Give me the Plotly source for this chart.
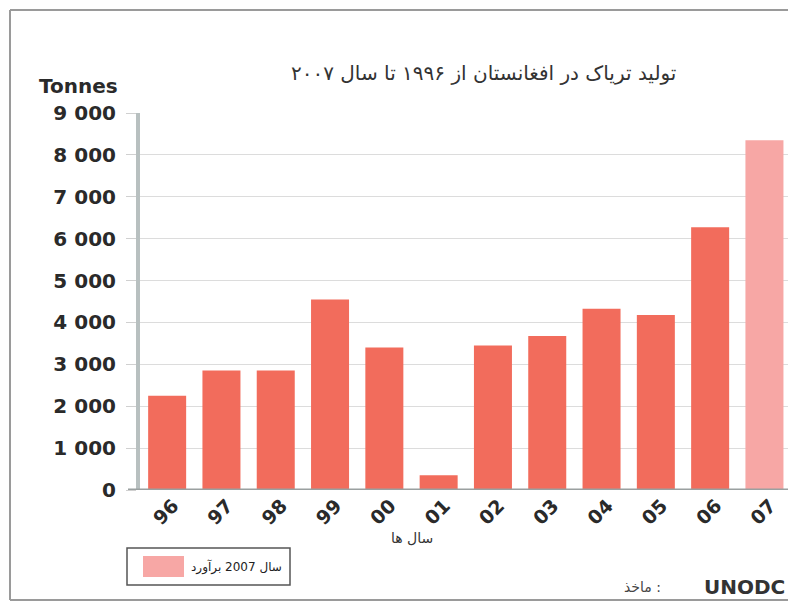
import plotly.graph_objects as go

years = ["96", "97", "98", "99", "00", "01", "02", "03", "04", "05", "06"]
tonnes = [2250, 2850, 2850, 4550, 3400, 350, 3450, 3675, 4325, 4175, 6275]
est_year = ["07"]
est_tonnes = [8350]
all_years = years + est_year
ytick_vals = [0, 1000, 2000, 3000, 4000, 5000, 6000, 7000, 8000, 9000]
ytick_text = ["0", "1 000", "2 000", "3 000", "4 000", "5 000", "6 000", "7 000", "8 000", "9 000"]

title_text = "تولید تریاک در افغانستان از ۱۹۹۶ تا سال ۲۰۰۷"
xaxis_title = "سال ها"
legend_text = "سال 2007 برآورد"
source_label = "ماخذ :"
source_name = "UNODC"

W, H = 788, 602
ML, MR, MT, MB = 140, 0, 113, 602 - 490
PW, PH = W - ML - MR, H - MT - MB

def px(x):
    return (x - ML) / PW

def py(y):
    return (H - MB - y) / PH

BAR = "#F26C5C"
PINK = "#F7A7A5"

fig = go.Figure()
fig.add_trace(go.Bar(x=years, y=tonnes, marker=dict(color=BAR, line=dict(width=0)),
                     showlegend=False))
fig.add_trace(go.Bar(x=est_year, y=est_tonnes, marker=dict(color=PINK, line=dict(width=0)),
                     name=legend_text, showlegend=False))

fig.update_layout(
    width=W, height=H, autosize=False,
    margin=dict(l=ML, r=MR, t=MT, b=MB, pad=0),
    paper_bgcolor="white", plot_bgcolor="white",
    barmode="overlay", bargap=0.3,
    showlegend=False,
    font=dict(family="DejaVu Sans", color="#2a2a2a"),
)
fig.update_xaxes(
    type="category", categoryorder="array", categoryarray=all_years,
    range=[-0.5, -0.5 + PW / 54.3],
    tickangle=-45, ticklabelshift=6, ticklabelstandoff=0,
    tickfont=dict(family="DejaVu Sans", size=19, weight="bold", color="#2a2a2a"),
    ticks="", showgrid=False, showline=False, zeroline=False,
)
fig.update_yaxes(
    range=[0, 9000], tickvals=ytick_vals, ticktext=ytick_text,
    tickfont=dict(family="DejaVu Sans", size=20, weight="bold", color="#2a2a2a"),
    ticks="outside", ticklen=10, tickcolor="#d0d0d0", tickwidth=1,
    ticklabelstandoff=6,
    showgrid=True, gridcolor="#dcdcdc", gridwidth=1,
    showline=True, linecolor="#b8c0c0", linewidth=4,
    zeroline=False,
)

FRAME = dict(color="#9a9a9a", width=2)
shapes = [
    # outer frame: top, left, bottom edges
    dict(type="line", xref="paper", yref="paper", x0=px(10), x1=px(788), y0=py(10), y1=py(10), line=FRAME),
    dict(type="line", xref="paper", yref="paper", x0=px(10), x1=px(10), y0=py(10), y1=py(600), line=FRAME),
    dict(type="line", xref="paper", yref="paper", x0=px(10), x1=px(788), y0=py(600), y1=py(600), line=FRAME),
    # baseline
    dict(type="line", xref="paper", yref="y", x0=px(128), x1=1.0, y0=0, y1=0,
         line=dict(color="#9aa0a0", width=3)),
    # legend box and swatch
    dict(type="rect", xref="paper", yref="paper", x0=px(127), x1=px(290), y0=py(585), y1=py(548),
         line=dict(color="#555555", width=1.5), fillcolor="white"),
    dict(type="rect", xref="paper", yref="paper", x0=px(143), x1=px(184), y0=py(577), y1=py(556),
         line=dict(width=0), fillcolor=PINK),
]
fig.update_layout(shapes=shapes)

annotations = [
    dict(text=title_text, xref="paper", yref="paper", x=px(678), y=py(73),
         xanchor="right", yanchor="middle", showarrow=False,
         font=dict(family="DejaVu Sans", size=20, color="#333333")),
    dict(text="Tonnes", xref="paper", yref="paper", x=px(37), y=py(86),
         xanchor="left", yanchor="middle", showarrow=False,
         font=dict(family="DejaVu Sans", size=20, weight="bold", color="#2a2a2a")),
    dict(text=xaxis_title, xref="paper", yref="paper", x=px(412), y=py(538),
         xanchor="center", yanchor="middle", showarrow=False,
         font=dict(family="DejaVu Sans", size=14, color="#333333")),
    dict(text=legend_text, xref="paper", yref="paper", x=px(284), y=py(567),
         xanchor="right", yanchor="middle", showarrow=False,
         font=dict(family="DejaVu Sans", size=12, color="#222222")),
    dict(text=source_label, xref="paper", yref="paper", x=px(622), y=py(587),
         xanchor="left", yanchor="middle", showarrow=False,
         font=dict(family="DejaVu Sans", size=14, color="#444444")),
    dict(text=source_name, xref="paper", yref="paper", x=px(787), y=py(587),
         xanchor="right", yanchor="middle", showarrow=False,
         font=dict(family="DejaVu Sans", size=20, weight="bold", color="#333333")),
]
fig.update_layout(annotations=annotations)

fig.write_html("out.html", config={"displayModeBar": False},
               post_script="document.body.style.margin='0';")
